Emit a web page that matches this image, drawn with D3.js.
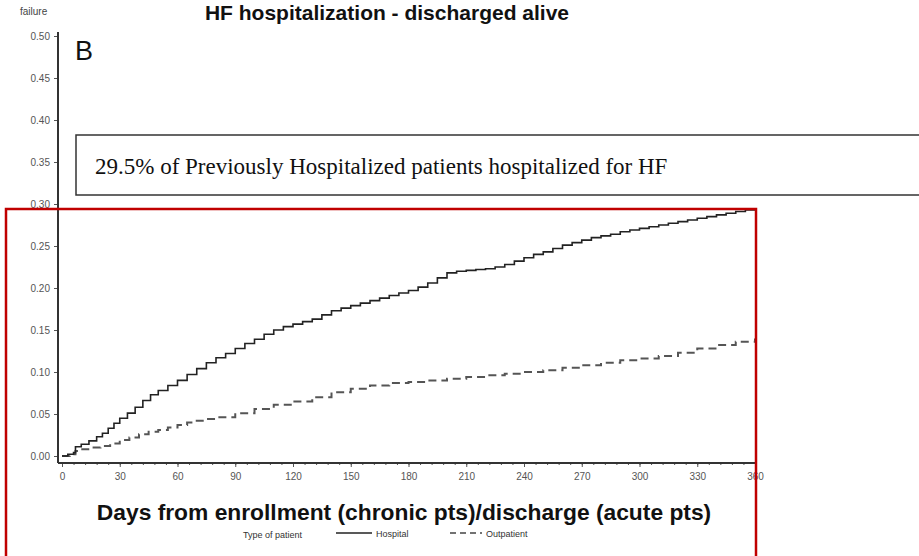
<!DOCTYPE html>
<html>
<head>
<meta charset="utf-8">
<script src="https://cdn.jsdelivr.net/npm/d3@7"></script>
<style>
  body { margin: 0; background: #fff; }
  svg { display: block; }
</style>
</head>
<body>
<div id="chart"></div>
<script>
// Cumulative failure
const hospDays = [0, 3, 6, 7, 10, 14, 18, 21, 24, 27, 30, 34, 38, 42, 46, 50, 55, 60, 65, 70, 75, 80, 85, 90, 95, 100, 105, 110, 115, 120, 125, 130, 135, 140, 145, 150, 155, 160, 165, 170, 175, 180, 185, 190, 195, 200, 205, 210, 215, 220, 225, 230, 235, 240, 245, 250, 255, 260, 265, 270, 275, 280, 285, 290, 295, 300, 305, 310, 315, 320, 325, 330, 335, 340, 345, 350, 355, 360];
const hospValues = [0, 0.002, 0.004, 0.011, 0.014, 0.018, 0.023, 0.027, 0.033, 0.039, 0.045, 0.051, 0.058, 0.066, 0.073, 0.078, 0.084, 0.090, 0.097, 0.104, 0.111, 0.117, 0.122, 0.128, 0.134, 0.139, 0.145, 0.150, 0.154, 0.157, 0.160, 0.163, 0.168, 0.173, 0.176, 0.179, 0.182, 0.185, 0.188, 0.191, 0.194, 0.197, 0.201, 0.206, 0.212, 0.218, 0.220, 0.221, 0.222, 0.223, 0.225, 0.228, 0.232, 0.236, 0.240, 0.243, 0.247, 0.251, 0.254, 0.257, 0.260, 0.262, 0.264, 0.267, 0.269, 0.271, 0.273, 0.275, 0.277, 0.279, 0.281, 0.283, 0.285, 0.287, 0.289, 0.291, 0.293, 0.295];

const outDays = [0, 4, 7, 10, 15, 20, 25, 30, 35, 40, 45, 50, 55, 60, 65, 70, 75, 80, 90, 100, 110, 120, 130, 140, 150, 160, 170, 180, 190, 200, 210, 220, 230, 240, 250, 260, 270, 280, 290, 300, 310, 320, 330, 340, 350, 360];
const outValues = [0, 0.002, 0.006, 0.008, 0.010, 0.012, 0.015, 0.019, 0.022, 0.026, 0.029, 0.031, 0.034, 0.037, 0.040, 0.042, 0.044, 0.046, 0.051, 0.056, 0.061, 0.065, 0.070, 0.076, 0.080, 0.084, 0.087, 0.088, 0.090, 0.092, 0.094, 0.096, 0.098, 0.100, 0.102, 0.105, 0.108, 0.111, 0.114, 0.116, 0.119, 0.123, 0.128, 0.132, 0.136, 0.140];

const xTicks = [0, 30, 60, 90, 120, 150, 180, 210, 240, 270, 300, 330, 360];
const yTicks = [0, 0.05, 0.10, 0.15, 0.20, 0.25, 0.30, 0.35, 0.40, 0.45, 0.50];

const width = 919;
const height = 556;
const sans = 'Liberation Sans, Arial, sans-serif';

const svg = d3.select('#chart')
  .append('svg')
  .attr('width', width)
  .attr('height', height);

svg.append('rect')
  .attr('width', width)
  .attr('height', height)
  .attr('fill', '#fff');

const xScale = d3.scaleLinear().domain([0, 360]).range([62, 755]);
const yScale = d3.scaleLinear().domain([0, 0.5]).range([456, 36]);

// Title
svg.append('text')
  .attr('x', 387)
  .attr('y', 20)
  .attr('text-anchor', 'middle')
  .style('font-family', sans)
  .style('font-weight', 'bold')
  .style('font-size', '21px')
  .style('fill', '#111')
  .text('HF hospitalization - discharged alive');

svg.append('text')
  .attr('x', 20)
  .attr('y', 15)
  .style('font-family', sans)
  .style('font-size', '10px')
  .style('fill', '#444')
  .text('failure');

svg.append('text')
  .attr('x', 75)
  .attr('y', 60)
  .style('font-family', sans)
  .style('font-size', '27px')
  .style('fill', '#111')
  .text('B');

// Y axis
const yAxis = d3.axisLeft(yScale)
  .tickValues(yTicks)
  .tickSize(4)
  .tickPadding(4)
  .tickFormat(d3.format('.2f'));

const gy = svg.append('g')
  .attr('transform', 'translate(58,0)')
  .call(yAxis);
gy.select('.domain').remove();
gy.selectAll('text')
  .style('font-family', sans)
  .style('font-size', '10px')
  .style('fill', '#555');
gy.selectAll('line').attr('stroke', '#555');

svg.append('line')
  .attr('x1', 58).attr('x2', 58)
  .attr('y1', 32).attr('y2', 463)
  .attr('stroke', '#333')
  .attr('stroke-width', 2);

// X axis
const xAxis = d3.axisBottom(xScale)
  .tickValues(xTicks)
  .tickSize(4)
  .tickPadding(6);

const gx = svg.append('g')
  .attr('transform', 'translate(0,463)')
  .call(xAxis);
gx.select('.domain').remove();
gx.selectAll('text')
  .style('font-family', sans)
  .style('font-size', '10px')
  .style('fill', '#555');
gx.selectAll('line').attr('stroke', '#555');

const gxMinor = svg.append('g')
  .attr('transform', 'translate(0,463)')
  .call(d3.axisBottom(xScale).tickValues(d3.range(0, 361, 6)).tickSize(2).tickFormat(''));
gxMinor.select('.domain').remove();
gxMinor.selectAll('line').attr('stroke', '#555');

svg.append('line')
  .attr('x1', 58).attr('x2', 757)
  .attr('y1', 463).attr('y2', 463)
  .attr('stroke', '#333')
  .attr('stroke-width', 2);

// Curves
const line = d3.line()
  .x(d => xScale(d[0]))
  .y(d => yScale(d[1]))
  .curve(d3.curveStepAfter);

svg.append('path')
  .datum(outDays.map((d, i) => [d, outValues[i]]))
  .attr('d', line)
  .attr('fill', 'none')
  .attr('stroke', '#555')
  .attr('stroke-width', 2)
  .attr('stroke-dasharray', '8,5');

svg.append('path')
  .datum(hospDays.map((d, i) => [d, hospValues[i]]))
  .attr('d', line)
  .attr('fill', 'none')
  .attr('stroke', '#222')
  .attr('stroke-width', 1.6);

// X axis title
svg.append('text')
  .attr('x', 404)
  .attr('y', 520)
  .attr('text-anchor', 'middle')
  .style('font-family', sans)
  .style('font-weight', 'bold')
  .style('font-size', '22.8px')
  .style('fill', '#111')
  .text('Days from enrollment (chronic pts)/discharge (acute pts)');

// Legend
const legend = svg.append('g')
  .style('font-family', sans)
  .style('font-size', '9px')
  .style('fill', '#333');

legend.append('text').attr('x', 302).attr('y', 538).attr('text-anchor', 'end').text('Type of patient');
legend.append('line')
  .attr('x1', 336).attr('x2', 372).attr('y1', 533).attr('y2', 533)
  .attr('stroke', '#222').attr('stroke-width', 1.5);
legend.append('text').attr('x', 376).attr('y', 537).text('Hospital');
legend.append('line')
  .attr('x1', 450).attr('x2', 482).attr('y1', 533).attr('y2', 533)
  .attr('stroke', '#444').attr('stroke-width', 1.5)
  .attr('stroke-dasharray', '6,4');
legend.append('text').attr('x', 486).attr('y', 537).text('Outpatient');

// Annotation box
svg.append('rect')
  .attr('x', 76)
  .attr('y', 135)
  .attr('width', 900)
  .attr('height', 60)
  .attr('fill', 'none')
  .attr('stroke', '#333')
  .attr('stroke-width', 1.5);

svg.append('text')
  .attr('x', 95)
  .attr('y', 174)
  .style('font-family', 'Liberation Serif, Times New Roman, serif')
  .style('font-size', '23px')
  .style('fill', '#111')
  .text('29.5% of Previously Hospitalized patients hospitalized for HF');

// Red highlight frame
svg.append('rect')
  .attr('x', 6)
  .attr('y', 209)
  .attr('width', 750)
  .attr('height', 400)
  .attr('fill', 'none')
  .attr('stroke', '#c00000')
  .attr('stroke-width', 2.5);
</script>
</body>
</html>
